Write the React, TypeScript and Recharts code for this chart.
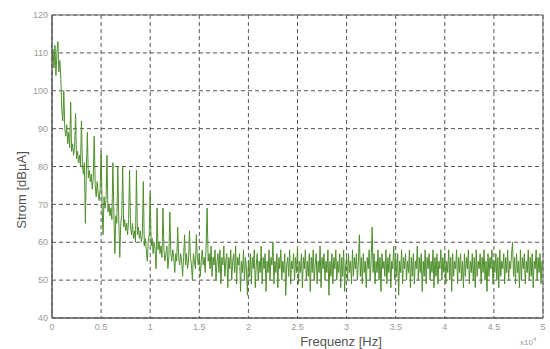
import { LineChart, Line, XAxis, YAxis, CartesianGrid, ReferenceArea, Label } from 'recharts';

const STEP = 0.01;

const strom0to1 = [
  108, 111, 106, 112, 104, 110, 113, 105, 108, 103,
  95, 92, 100, 90, 88, 91, 86, 89, 85, 97,
  84, 86, 83, 85, 94, 82, 84, 81, 83, 80,
  92, 80, 78, 81, 65, 79, 89, 77, 79, 76,
  78, 74, 77, 88, 75, 72, 76, 73, 71, 74,
  84, 70, 62, 72, 69, 71, 83, 68, 70, 67,
  69, 66, 81, 68, 57, 67, 65, 80, 66, 56,
  65, 67, 80, 64, 66, 63, 65, 62, 66, 79,
  64, 62, 65, 61, 63, 60, 79, 62, 64, 61,
  63, 60, 62, 76, 59, 61, 58, 55, 60, 62,
];
const strom1to2 = [
  73, 59, 61, 57, 60, 58, 53, 69, 58, 60,
  57, 59, 56, 69, 58, 55, 57, 59, 53, 56,
  68, 57, 55, 58, 56, 52, 57, 55, 64, 56,
  54, 57, 55, 51, 56, 62, 54, 57, 53, 55,
  63, 56, 54, 50, 57, 55, 53, 62, 56, 54,
  57, 51, 55, 58, 54, 56, 52, 60, 69, 55,
  57, 53, 59, 51, 56, 54, 58, 50, 55, 57,
  52, 58, 49, 56, 54, 59, 51, 55, 57, 48,
  56, 53, 58, 50, 55, 57, 52, 59, 49, 56,
  54, 57, 47, 55, 52, 58, 50, 56, 53, 46,
];
const strom2to3 = [
  55, 51, 57, 49, 56, 53, 58, 48, 54, 57,
  50, 55, 52, 59, 49, 56, 53, 57, 47, 55,
  52, 58, 50, 56, 54, 60, 49, 55, 52, 57,
  48, 56, 53, 58, 50, 55, 52, 57, 46, 54,
  56, 51, 58, 49, 55, 53, 57, 50, 56, 52,
  59, 49, 55, 52, 57, 48, 56, 53, 58, 50,
  55, 51, 57, 47, 56, 52, 58, 50, 54, 57,
  49, 55, 52, 59, 48, 56, 53, 57, 50, 55,
  52, 58, 46, 55, 51, 57, 49, 56, 53, 58,
  50, 55, 52, 57, 48, 56, 51, 58, 47, 54,
];
const strom3to4 = [
  56, 50, 57, 52, 55, 49, 58, 51, 56, 53,
  57, 50, 55, 62, 51, 56, 49, 57, 52, 55,
  48, 56, 53, 58, 50, 55, 64, 52, 57, 49,
  55, 52, 58, 50, 56, 47, 57, 53, 55, 51,
  58, 49, 56, 52, 57, 48, 55, 53, 59, 50,
  56, 51, 57, 46, 55, 52, 58, 49, 56, 53,
  57, 50, 55, 52, 58, 48, 56, 51, 57, 49,
  55, 53, 59, 50, 56, 52, 57, 47, 55, 51,
  58, 49, 56, 53, 57, 50, 55, 52, 58, 48,
  56, 51, 57, 49, 55, 53, 58, 50, 56, 52,
];
const strom4to5 = [
  57, 49, 55, 52, 58, 50, 56, 47, 57, 51,
  55, 53, 58, 49, 56, 52, 57, 50, 55, 48,
  57, 51, 56, 53, 58, 49, 55, 52, 57, 50,
  56, 48, 58, 51, 55, 53, 57, 49, 56, 52,
  58, 50, 55, 47, 57, 51, 56, 53, 58, 49,
  55, 52, 57, 50, 56, 48, 58, 51, 55, 53,
  57, 49, 56, 52, 58, 50, 55, 53, 57, 60,
  51, 56, 49, 57, 52, 55, 48, 58, 50, 56,
  53, 57, 49, 55, 52, 58, 50, 56, 51, 57,
  48, 55, 53, 58, 50, 56, 52, 57, 49, 55,
  53,
];

const segments = [
  { start: 0, values: strom0to1 },
  { start: 1, values: strom1to2 },
  { start: 2, values: strom2to3 },
  { start: 3, values: strom3to4 },
  { start: 4, values: strom4to5 },
];

const xTicks = [0, 0.5, 1, 1.5, 2, 2.5, 3, 3.5, 4, 4.5, 5];
const yTicks = [40, 50, 60, 70, 80, 90, 100, 110, 120];

const data = segments.flatMap((s) =>
  s.values.map((v, j) => ({ f: Number((s.start + j * STEP).toFixed(2)), strom: v }))
);

const font = 'Liberation Sans, Arial, sans-serif';
const tickStyle = { fontSize: 9, fill: '#999', fontFamily: font };

const App = () => {
  return (
    <div style={{ position: 'fixed', left: 0, top: 0, width: 550, height: 349, background: '#fff' }}>
      <LineChart
        width={550}
        height={349}
        data={data}
        margin={{ top: 15, right: 7, bottom: 0, left: 0 }}
        style={{ fontFamily: font }}
      >
        <CartesianGrid stroke='#555' strokeDasharray='4 3' />
        <XAxis
          dataKey='f'
          type='number'
          domain={[0, 5]}
          ticks={xTicks}
          tick={tickStyle}
          tickSize={0}
          tickMargin={6}
          height={31}
          stroke='#555'
          allowDataOverflow
        >
          <Label
            content={() => (
              <text x={341} y={346} textAnchor='middle' fill='#555' fontSize={13} fontFamily={font}>
                Frequenz [Hz]
              </text>
            )}
          />
        </XAxis>
        <YAxis
          type='number'
          domain={[40, 120]}
          ticks={yTicks}
          tick={tickStyle}
          tickSize={0}
          tickMargin={4}
          width={52}
          stroke='#555'
          allowDataOverflow
        >
          <Label
            content={() => (
              <text
                x={26}
                y={190}
                transform='rotate(-90 26 190)'
                textAnchor='middle'
                fill='#555'
                fontSize={13}
                fontFamily={font}
              >
                Strom [dBµA]
              </text>
            )}
          />
        </YAxis>
        <ReferenceArea x1={0} x2={5} y1={40} y2={120} fill='none' stroke='#666' strokeWidth={1} />
        <Line
          type='linear'
          dataKey='strom'
          stroke='#4f8f2c'
          strokeWidth={1}
          dot={false}
          isAnimationActive={false}
        />
      </LineChart>
      <div
        style={{
          position: 'absolute',
          left: 520,
          top: 336,
          fontSize: 8,
          color: '#999',
          fontFamily: font,
        }}
      >
        x10<sup style={{ fontSize: 6 }}>4</sup>
      </div>
    </div>
  );
};

export default App;
